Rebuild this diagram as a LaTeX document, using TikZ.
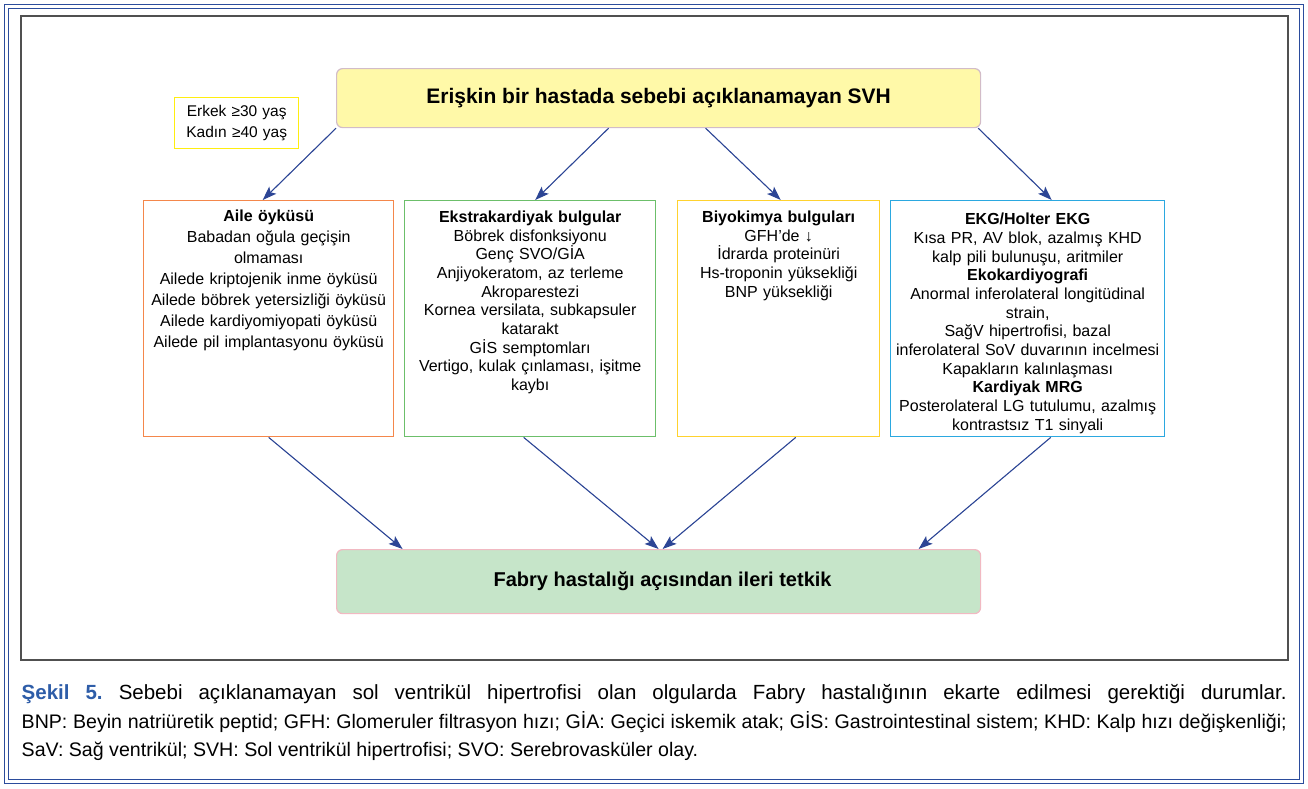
\documentclass[tikz,border=0pt]{standalone}
\usepackage{fontspec}
\setmainfont{Liberation Sans}
\usetikzlibrary{arrows.meta,calc}
\definecolor{frameblue}{HTML}{2B4C9C}
\definecolor{framegray}{HTML}{505050}
\definecolor{topfill}{HTML}{FFF9A8}
\definecolor{topdraw}{HTML}{D2BCC8}
\definecolor{agebox}{HTML}{FFEE10}
\definecolor{orangeC}{HTML}{F4874B}
\definecolor{greenC}{HTML}{6CBF6A}
\definecolor{yellowC}{HTML}{FFD22E}
\definecolor{blueC}{HTML}{2BA8E0}
\definecolor{botfill}{HTML}{C6E5C9}
\definecolor{botdraw}{HTML}{F1B9C2}
\definecolor{arrowblue}{HTML}{2C4595}
\definecolor{capblue}{HTML}{2E5DA8}
\frenchspacing
\begin{document}
\begin{tikzpicture}[x=1pt,y=-1pt,
  arr/.style={-{Stealth[length=14pt,width=10pt,inset=3pt]}, line width=1.1pt, draw=arrowblue, fill=arrowblue},
  infobox/.style={draw, line width=1.4pt, fill=white, minimum height=236pt, anchor=north west, inner sep=0pt},
  infotext/.style={anchor=base, align=center, inner sep=0pt, font=\fontsize{16}{18.7}\selectfont},
  titlebox/.style={rounded corners=6pt, line width=1.2pt, minimum width=644pt, inner sep=0pt, font=\fontsize{21}{24}\selectfont\bfseries}
]
\useasboundingbox (0,0) rectangle (1308,788);
% frame
\draw[frameblue, line width=1.6pt] (4.5,4.5) rectangle (1303.5,783.5);
\draw[frameblue, line width=1.4pt] (8.5,8.5) rectangle (1299.5,779.5);
\draw[framegray, line width=1.2pt] (21,16) rectangle (1288,660);

% title boxes
\node[titlebox, draw=topdraw, fill=topfill, minimum height=59pt, anchor=north west] (top) at (336,68)
  {Erişkin bir hastada sebebi açıklanamayan SVH};
\node[titlebox, draw=botdraw, fill=botfill, minimum height=64pt, anchor=north west,
  font=\fontsize{20}{24}\selectfont\bfseries] (fab) at (336,549)
  {\hspace{8pt}Fabry hastalığı açısından ileri tetkik};

% age box
\node[draw=agebox, line width=1.4pt, minimum width=124pt, minimum height=51pt, anchor=north west, inner sep=0pt] (age) at (174,97) {};
\node[anchor=base, align=center, text width=120pt, inner sep=0pt, font=\fontsize{15.5}{20.7}\selectfont] (agetext) at ([yshift=-19.5pt]age.north) {Erkek ≥30 yaş\\Kadın ≥40 yaş};

% info boxes
\node[infobox, draw=orangeC, minimum width=250pt] (aile) at (143,200) {};
\node[infobox, draw=greenC, minimum width=251pt] (extra) at (404,200) {};
\node[infobox, draw=yellowC, minimum width=202pt] (bio) at (677,200) {};
\node[infobox, draw=blueC, minimum width=274pt] (ekg) at (890,200) {};

\node[infotext, text width=248pt, font=\fontsize{16}{21}\selectfont] (ailetext) at ([yshift=-21.5pt]aile.north)
  {\textbf{Aile öyküsü}\\Babadan oğula geçişin\\olmaması\\Ailede kriptojenik inme öyküsü\\Ailede böbrek yetersizliği öyküsü\\Ailede kardiyomiyopati öyküsü\\Ailede pil implantasyonu öyküsü};
\node[infotext, text width=249pt] (extratext) at ([yshift=-22.3pt]extra.north)
  {\textbf{Ekstrakardiyak bulgular}\\Böbrek disfonksiyonu\\Genç SVO/GİA\\Anjiyokeratom, az terleme\\Akroparestezi\\Kornea versilata, subkapsuler\\katarakt\\GİS semptomları\\Vertigo, kulak çınlaması, işitme\\kaybı};
\node[infotext, text width=200pt] (biotext) at ([yshift=-22.3pt]bio.north)
  {\textbf{Biyokimya bulguları}\\GFH’de ↓\\İdrarda proteinüri\\Hs-troponin yüksekliği\\BNP yüksekliği};
\node[infotext, text width=272pt] (ekgtext) at ([yshift=-24.6pt]ekg.north)
  {\textbf{EKG/Holter EKG}\\Kısa PR, AV blok, azalmış KHD\\kalp pili bulunuşu, aritmiler\\\textbf{Ekokardiyografi}\\Anormal inferolateral longitüdinal\\strain,\\Sağ\kern0ptV hipertrofisi, bazal\\inferolateral SoV duvarının incelmesi\\Kapakların kalınlaşması\\\textbf{Kardiyak MRG}\\Posterolateral LG tutulumu, azalmış\\kontrastsız T1 sinyali};

% arrows top
\draw[arr] (top.south west) -- ([xshift=-6pt]aile.north);
\draw[arr] ([xshift=-50pt]top.south) -- ([xshift=5pt]extra.north);
\draw[arr] ([xshift=47pt]top.south) -- ([xshift=2pt]bio.north);
\draw[arr] ([xshift=-3pt]top.south east) -- ([xshift=24pt]ekg.north);
% arrows bottom
\draw[arr] (aile.south) -- ([xshift=-256pt]fab.north);
\draw[arr] ([xshift=-6.5pt]extra.south) -- ([xshift=0pt]fab.north);
\draw[arr] ([xshift=17pt]bio.south) -- ([xshift=4pt]fab.north);
\draw[arr] ([xshift=23pt]ekg.south) -- ([xshift=260pt]fab.north);

% caption
\node[anchor=base west, inner sep=0pt, font=\fontsize{20.5}{24}\selectfont] (cap1) at (21.5,699.5)
  {\makebox[1265pt][s]{\textcolor{capblue}{\textbf{Şekil 5.}} Sebebi açıklanamayan sol ventrikül hipertrofisi olan olgularda Fabry hastalığının ekarte edilmesi gerektiği durumlar.}};
\node[anchor=base west, inner sep=0pt, font=\fontsize{19.6}{24}\selectfont] (cap2) at (21.5,728)
  {\makebox[1265pt][s]{BNP: Beyin natriüretik peptid; GFH: Glomeruler filtrasyon hızı; GİA: Geçici iskemik atak; GİS: Gastrointestinal sistem; KHD: Kalp hızı değişkenliği;}};
\node[anchor=base west, inner sep=0pt, font=\fontsize{19.6}{24}\selectfont] (cap3) at (21.5,756)
  {SaV: Sağ ventrikül; SVH: Sol ventrikül hipertrofisi; SVO: Serebrovasküler olay.};
\end{tikzpicture}
\end{document}
